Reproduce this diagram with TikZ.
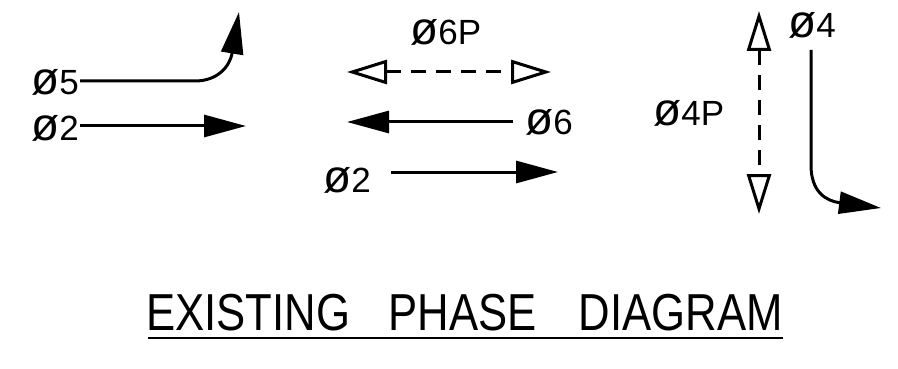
\documentclass[tikz,border=0pt]{standalone}
\usepackage{fontspec}
\setmainfont{Liberation Sans}
\usetikzlibrary{arrows.meta}
\newcommand\phz{{\fontsize{46}{46}\selectfont ø}}
\tikzset{
  lbl/.style={anchor=base west, inner sep=0pt, font=\fontsize{35}{35}\selectfont},
  mv/.style={line width=3pt, -{Triangle[length=42pt, width=22pt]}},
  ped/.style={line width=3pt, dash pattern=on 15pt off 10pt,
    {Triangle[open, length=40pt, width=24pt, fill=white]}-{Triangle[open, length=40pt, width=24pt, fill=white]}}
}
\begin{document}
\begin{tikzpicture}[x=1pt, y=-1pt]
\useasboundingbox (0,0) rectangle (898,369);
% labels
\node[lbl] (l5) at (31,95) {\phz 5};
\node[lbl] (l2a) at (31,140) {\phz 2};
\node[lbl] (l6p) at (410,45) {\phz 6P};
\node[lbl] (l6) at (525,135) {\phz 6};
\node[lbl] (l2b) at (323,192) {\phz 2};
\node[lbl] (l4p) at (653,125) {\phz 4P};
\node[lbl] (l4) at (788,38) {\phz 4};
% coordinates
\coordinate (p5a) at (80,81);
\coordinate (p5b) at (195,81);
\coordinate (p5t) at (239,12);
\coordinate (p2a) at (80,126);
\coordinate (p2t) at (246,126);
\coordinate (p6a) at (513,122);
\coordinate (p6t) at (347,122);
\coordinate (p2c) at (391,172);
\coordinate (p2d) at (558,172);
\coordinate (pp6a) at (347,72);
\coordinate (pp6b) at (551,72);
\coordinate (pp4a) at (759,11);
\coordinate (pp4b) at (759,214);
\coordinate (p4a) at (811,50);
\coordinate (p4b) at (811,165);
\coordinate (p4t) at (881,208);
% movements
\draw[mv] (p5a) -- (p5b) .. controls (218,81) and (230,66) .. (p5t);
\draw[mv] (p2a) -- (p2t);
\draw[mv] (p6a) -- (p6t);
\draw[mv] (p2c) -- (p2d);
\draw[mv] (p4a) -- (p4b) .. controls (811,192) and (826,201) .. (p4t);
% pedestrian
\draw[ped] (pp6a) -- (pp6b);
\draw[ped] (pp4a) -- (pp4b);
% title
\node[anchor=base west, inner sep=0pt, font=\fontsize{52}{52}\selectfont] (title) at (146,330)
  {\scalebox{0.84}[1]{EXISTING\hspace{46pt}PHASE\hspace{50pt}DIAGRAM}};
\draw[line width=2.5pt] ([xshift=2pt,yshift=-8pt]title.base west) -- ([yshift=-8pt]title.base east);
\end{tikzpicture}
\end{document}
